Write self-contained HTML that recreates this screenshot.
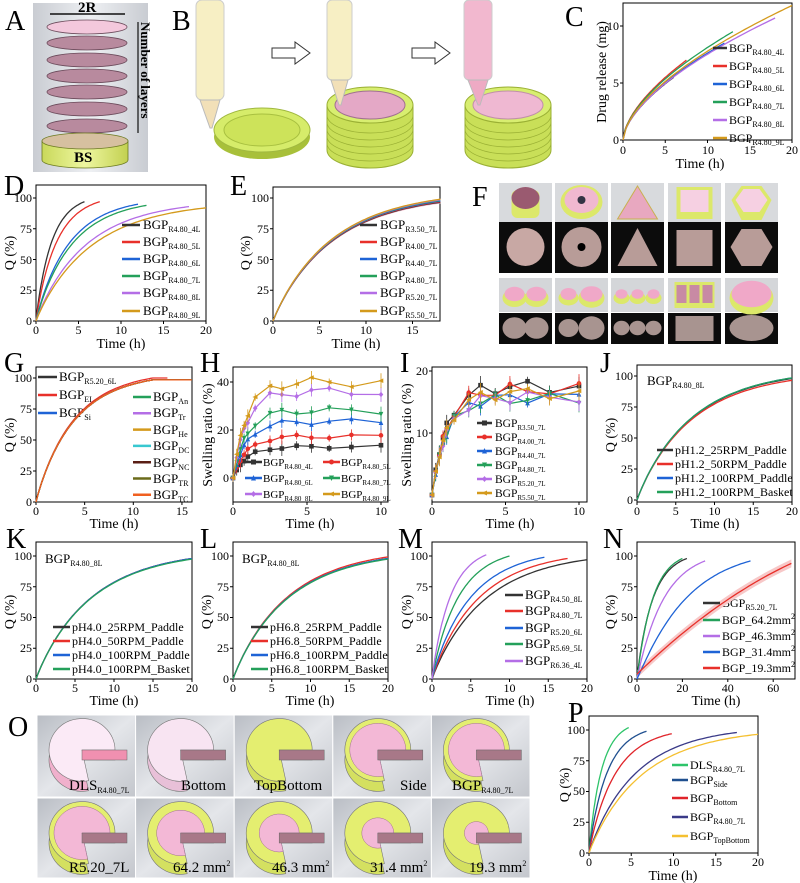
<!DOCTYPE html>
<html><head><meta charset="utf-8"><style>
html,body{margin:0;padding:0;background:#fff}
svg{display:block;font-family:"Liberation Serif",serif}
.t{font-size:12px}
.l{font-size:13px}
.s{font-size:8px}
.pl{font-size:28px}
.ax{font-size:14px}
</style></head><body>
<svg width="800" height="883" viewBox="0 0 800 883" xmlns="http://www.w3.org/2000/svg">
<defs>
<linearGradient id="gA" x1="0" x2="1"><stop offset="0" stop-color="#c9ccd2"/><stop offset="0.5" stop-color="#eef0f3"/><stop offset="1" stop-color="#c9ccd2"/></linearGradient>
<linearGradient id="gT" x1="0" y1="0" x2="1" y2="1"><stop offset="0" stop-color="#b9bdc4"/><stop offset="0.5" stop-color="#e4e6ea"/><stop offset="1" stop-color="#c3c6cc"/></linearGradient>
<linearGradient id="gY" x1="0" x2="1"><stop offset="0" stop-color="#c9d85a"/><stop offset="0.5" stop-color="#eef7a0"/><stop offset="1" stop-color="#c2d050"/></linearGradient>
</defs>

<!-- Panel A -->
<rect x="33" y="3" width="115" height="169" fill="url(#gA)"/>
<line x1="50" y1="14" x2="125" y2="14" stroke="#111" stroke-width="1.5"/>
<text x="78" y="12" font-size="15" font-weight="bold">2R</text>
<g stroke="#6a4a5a" stroke-width="0.8">
<ellipse cx="87" cy="27" rx="40" ry="7" fill="#f3c8dc"/>
<ellipse cx="87" cy="43" rx="40" ry="7" fill="#b88a9e"/>
<ellipse cx="87" cy="60" rx="40" ry="7" fill="#b88a9e"/>
<ellipse cx="87" cy="76" rx="40" ry="7" fill="#b88a9e"/>
<ellipse cx="87" cy="92" rx="40" ry="7" fill="#b88a9e"/>
<ellipse cx="87" cy="109" rx="40" ry="7" fill="#b88a9e"/>
<ellipse cx="87" cy="126" rx="40" ry="7" fill="#b88a9e"/>
</g>
<path d="M42,141 L42,160 A43,8 0 0 0 128,160 L128,141 Z" fill="url(#gY)" stroke="#6b7a20" stroke-width="0.8"/>
<ellipse cx="85" cy="141" rx="43" ry="8" fill="#d6c0a0" stroke="#6b7a20" stroke-width="0.8"/>
<text x="74" y="162" font-size="15" font-weight="bold">BS</text>
<line x1="138" y1="22" x2="138" y2="133" stroke="#111" stroke-width="1.2"/>
<text transform="translate(141,22) rotate(90)" font-size="13" font-weight="bold">Number of layers</text>
<text x="5" y="30" class="pl">A</text>

<!-- Panel B -->
<text x="172" y="30" class="pl">B</text>
<g>
<ellipse cx="262" cy="137" rx="48" ry="22" fill="#a8c03a"/>
<ellipse cx="262" cy="130" rx="48" ry="22" fill="#d6ec6a" stroke="#a0b840"/>
<ellipse cx="262" cy="130" rx="38" ry="16" fill="#cde35a" stroke="#a8c040"/>
<rect x="196" y="0" width="28" height="100" rx="6" fill="#f7efc4" stroke="#ccc"/>
<path d="M200,100 L220,100 L212,128 L210,128 Z" fill="#f2e0b8" stroke="#bbb"/>
<path d="M327,105 L327,150 A43,18 0 0 0 413,150 L413,105 Z" fill="#c9df58" stroke="#9ab034"/>
<g stroke="#9ab034" stroke-width="0.7" fill="none"><path d="M327,115 A43,18 0 0 0 413,115 M327,122 A43,18 0 0 0 413,122 M327,129 A43,18 0 0 0 413,129 M327,136 A43,18 0 0 0 413,136 M327,143 A43,18 0 0 0 413,143"/></g>
<ellipse cx="370" cy="105" rx="43" ry="18" fill="#d8ee70" stroke="#9ab034"/>
<ellipse cx="370" cy="105" rx="35" ry="14" fill="#e4a8c6" stroke="#a07090"/>
<rect x="327" y="0" width="25" height="80" rx="5" fill="#f7efc4" stroke="#ccc"/>
<path d="M331,80 L348,80 L341,105 L339,105 Z" fill="#f2e0b8" stroke="#bbb"/>
<path d="M465,105 L465,150 A43,18 0 0 0 551,150 L551,105 Z" fill="#c9df58" stroke="#9ab034"/>
<g stroke="#9ab034" stroke-width="0.7" fill="none"><path d="M465,115 A43,18 0 0 0 551,115 M465,122 A43,18 0 0 0 551,122 M465,129 A43,18 0 0 0 551,129 M465,136 A43,18 0 0 0 551,136 M465,143 A43,18 0 0 0 551,143"/></g>
<ellipse cx="508" cy="105" rx="43" ry="18" fill="#d8ee70" stroke="#9ab034"/>
<ellipse cx="508" cy="105" rx="35" ry="14" fill="#efb8d2" stroke="#c090a8"/>
<rect x="464" y="0" width="28" height="80" rx="5" fill="#f2b8cf" stroke="#ccc"/>
<path d="M468,80 L488,80 L480,105 L478,105 Z" fill="#eeaac4" stroke="#bbb"/>
<path d="M272,48 L295,48 L295,42 L310,53 L295,64 L295,58 L272,58 Z" fill="#fff" stroke="#333"/>
<path d="M412,48 L435,48 L435,42 L450,53 L435,64 L435,58 L412,58 Z" fill="#fff" stroke="#333"/>
</g>

<!-- Panel C -->
<text x="565" y="26" class="pl">C</text>
<rect x="623" y="3" width="169" height="137" fill="none" stroke="#000"/>
<g class="t" text-anchor="end"><text x="619" y="144">0</text><text x="619" y="87">5</text><text x="619" y="30">10</text></g>
<g class="t" text-anchor="middle"><text x="623" y="154">0</text><text x="665" y="154">5</text><text x="708" y="154">10</text><text x="750" y="154">15</text><text x="792" y="154">20</text></g>
<text x="700" y="168" class="ax" text-anchor="middle">Time (h)</text>
<text transform="translate(606,72) rotate(-90)" class="ax" text-anchor="middle">Drug release (mg)</text>
<g style="font-size:12px">
<text x="729" y="52">BGP<tspan class="s" dy="3">R4.80_4L</tspan></text>
<text x="729" y="70">BGP<tspan class="s" dy="3">R4.80_5L</tspan></text>
<text x="729" y="88">BGP<tspan class="s" dy="3">R4.80_6L</tspan></text>
<text x="729" y="106">BGP<tspan class="s" dy="3">R4.80_7L</tspan></text>
<text x="729" y="124">BGP<tspan class="s" dy="3">R4.80_8L</tspan></text>
<text x="729" y="142">BGP<tspan class="s" dy="3">R4.80_9L</tspan></text>
</g>

<!-- Panel D -->
<text x="4" y="195" class="pl">D</text>
<rect x="36" y="185" width="170" height="136" fill="none" stroke="#000"/>
<g class="t" text-anchor="end"><text x="32" y="325">0</text><text x="32" y="294">25</text><text x="32" y="264">50</text><text x="32" y="233">75</text><text x="32" y="202">100</text></g>
<g class="t" text-anchor="middle"><text x="36" y="334">0</text><text x="78.5" y="334">5</text><text x="121" y="334">10</text><text x="163.5" y="334">15</text><text x="206" y="334">20</text></g>
<text x="121" y="348" class="ax" text-anchor="middle">Time (h)</text>
<text transform="translate(14,253) rotate(-90)" class="ax" text-anchor="middle">Q (%)</text>
<g class="l">
<text x="143" y="229">BGP<tspan class="s" dy="3">R4.80_4L</tspan></text>
<text x="143" y="246">BGP<tspan class="s" dy="3">R4.80_5L</tspan></text>
<text x="143" y="263">BGP<tspan class="s" dy="3">R4.80_6L</tspan></text>
<text x="143" y="280">BGP<tspan class="s" dy="3">R4.80_7L</tspan></text>
<text x="143" y="297">BGP<tspan class="s" dy="3">R4.80_8L</tspan></text>
<text x="143" y="315">BGP<tspan class="s" dy="3">R4.80_9L</tspan></text>
</g>

<!-- Panel E -->
<text x="230" y="195" class="pl">E</text>
<rect x="273" y="187" width="167" height="134" fill="none" stroke="#000"/>
<g class="t" text-anchor="end"><text x="269" y="325">0</text><text x="269" y="294">25</text><text x="269" y="264">50</text><text x="269" y="233">75</text><text x="269" y="202">100</text></g>
<g class="t" text-anchor="middle"><text x="273" y="334">0</text><text x="319.5" y="334">5</text><text x="366" y="334">10</text><text x="412.5" y="334">15</text></g>
<text x="356" y="348" class="ax" text-anchor="middle">Time (h)</text>
<text transform="translate(250,253) rotate(-90)" class="ax" text-anchor="middle">Q (%)</text>
<g class="l">
<text x="380" y="229">BGP<tspan class="s" dy="3">R3.50_7L</tspan></text>
<text x="380" y="246">BGP<tspan class="s" dy="3">R4.00_7L</tspan></text>
<text x="380" y="263">BGP<tspan class="s" dy="3">R4.40_7L</tspan></text>
<text x="380" y="280">BGP<tspan class="s" dy="3">R4.80_7L</tspan></text>
<text x="380" y="297">BGP<tspan class="s" dy="3">R5.20_7L</tspan></text>
<text x="380" y="315">BGP<tspan class="s" dy="3">R5.50_7L</tspan></text>
</g>

<!-- Panel F -->
<text x="472" y="206" class="pl">F</text>
<g id="F"></g>

<!-- Panel G -->
<text x="4" y="372" class="pl">G</text>
<rect x="36" y="367" width="156" height="135" fill="none" stroke="#000"/>
<g class="t" text-anchor="end"><text x="32" y="506">0</text><text x="32" y="475">25</text><text x="32" y="444">50</text><text x="32" y="413">75</text><text x="32" y="382">100</text></g>
<g class="t" text-anchor="middle"><text x="36" y="515">0</text><text x="84.7" y="515">5</text><text x="133" y="515">10</text><text x="182" y="515">15</text></g>
<text x="114" y="528" class="ax" text-anchor="middle">Time (h)</text>
<text transform="translate(14,435) rotate(-90)" class="ax" text-anchor="middle">Q (%)</text>
<g class="l">
<text x="59" y="381">BGP<tspan class="s" dy="3">R5.20_6L</tspan></text>
<text x="59" y="399">BGP<tspan class="s" dy="3">EI</tspan></text>
<text x="59" y="417">BGP<tspan class="s" dy="3">Si</tspan></text>
<text x="153" y="401">BGP<tspan class="s" dy="3">An</tspan></text>
<text x="153" y="417">BGP<tspan class="s" dy="3">Tr</tspan></text>
<text x="153" y="434">BGP<tspan class="s" dy="3">He</tspan></text>
<text x="153" y="450">BGP<tspan class="s" dy="3">DC</tspan></text>
<text x="153" y="467">BGP<tspan class="s" dy="3">NC</tspan></text>
<text x="153" y="483">BGP<tspan class="s" dy="3">TR</tspan></text>
<text x="153" y="499">BGP<tspan class="s" dy="3">TC</tspan></text>
</g>

<!-- Panel H -->
<text x="200" y="372" class="pl">H</text>
<rect x="233" y="367" width="155" height="135" fill="none" stroke="#000"/>
<g class="t" text-anchor="end"><text x="229" y="482">0</text><text x="229" y="434">20</text><text x="229" y="386">40</text></g>
<g class="t" text-anchor="middle"><text x="233" y="515">0</text><text x="307" y="515">5</text><text x="381" y="515">10</text></g>
<text x="310" y="528" class="ax" text-anchor="middle">Time (h)</text>
<text transform="translate(212,435) rotate(-90)" class="ax" text-anchor="middle">Swelling ratio (%)</text>
<g style="font-size:11px">
<text x="263" y="466">BGP<tspan class="s" dy="3" style="font-size:7px">R4.80_4L</tspan></text>
<text x="341" y="466">BGP<tspan class="s" dy="3" style="font-size:7px">R4.80_5L</tspan></text>
<text x="263" y="482">BGP<tspan class="s" dy="3" style="font-size:7px">R4.80_6L</tspan></text>
<text x="341" y="482">BGP<tspan class="s" dy="3" style="font-size:7px">R4.80_7L</tspan></text>
<text x="263" y="498">BGP<tspan class="s" dy="3" style="font-size:7px">R4.80_8L</tspan></text>
<text x="341" y="498">BGP<tspan class="s" dy="3" style="font-size:7px">R4.80_9L</tspan></text>
</g>

<!-- Panel I -->
<text x="400" y="372" class="pl">I</text>
<rect x="432" y="367" width="155" height="135" fill="none" stroke="#000"/>
<g class="t" text-anchor="end"><text x="428" y="437">10</text><text x="428" y="375">20</text></g>
<g class="t" text-anchor="middle"><text x="432" y="515">0</text><text x="505.5" y="515">5</text><text x="579" y="515">10</text></g>
<text x="510" y="528" class="ax" text-anchor="middle">Time (h)</text>
<text transform="translate(411,435) rotate(-90)" class="ax" text-anchor="middle">Swelling ratio (%)</text>
<g style="font-size:11.5px">
<text x="495" y="427">BGP<tspan class="s" dy="3" style="font-size:7px">R3.50_7L</tspan></text>
<text x="495" y="441">BGP<tspan class="s" dy="3" style="font-size:7px">R4.00_7L</tspan></text>
<text x="495" y="455">BGP<tspan class="s" dy="3" style="font-size:7px">R4.40_7L</tspan></text>
<text x="495" y="469">BGP<tspan class="s" dy="3" style="font-size:7px">R4.80_7L</tspan></text>
<text x="495" y="483">BGP<tspan class="s" dy="3" style="font-size:7px">R5.20_7L</tspan></text>
<text x="495" y="497">BGP<tspan class="s" dy="3" style="font-size:7px">R5.50_7L</tspan></text>
</g>

<!-- Panel J -->
<text x="600" y="372" class="pl">J</text>
<rect x="637" y="365" width="155" height="137" fill="none" stroke="#000"/>
<g class="t" text-anchor="end"><text x="633" y="504">0</text><text x="633" y="473">25</text><text x="633" y="442">50</text><text x="633" y="411">75</text><text x="633" y="380">100</text></g>
<g class="t" text-anchor="middle"><text x="637" y="515">0</text><text x="675.75" y="515">5</text><text x="714.5" y="515">10</text><text x="753.25" y="515">15</text><text x="792" y="515">20</text></g>
<text x="715" y="528" class="ax" text-anchor="middle">Time (h)</text>
<text transform="translate(615,435) rotate(-90)" class="ax" text-anchor="middle">Q (%)</text>
<text x="647" y="385" class="l">BGP<tspan class="s" dy="3">R4.80_8L</tspan></text>
<g style="font-size:12px">
<text x="675" y="454">pH1.2_25RPM_Paddle</text>
<text x="675" y="468">pH1.2_50RPM_Paddle</text>
<text x="675" y="482">pH1.2_100RPM_Paddle</text>
<text x="675" y="496">pH1.2_100RPM_Basket</text>
</g>

<!-- Panel K -->
<text x="6" y="548" class="pl">K</text>
<rect x="36" y="542" width="156" height="137" fill="none" stroke="#000"/>
<g class="t" text-anchor="end"><text x="32" y="683">0</text><text x="32" y="652">25</text><text x="32" y="621">50</text><text x="32" y="591">75</text><text x="32" y="560">100</text></g>
<g class="t" text-anchor="middle"><text x="36" y="692">0</text><text x="75" y="692">5</text><text x="114" y="692">10</text><text x="153" y="692">15</text><text x="192" y="692">20</text></g>
<text x="114" y="705" class="ax" text-anchor="middle">Time (h)</text>
<text transform="translate(14,612) rotate(-90)" class="ax" text-anchor="middle">Q (%)</text>
<text x="45" y="563" class="l">BGP<tspan class="s" dy="3">R4.80_8L</tspan></text>
<g style="font-size:12px">
<text x="72" y="631">pH4.0_25RPM_Paddle</text>
<text x="72" y="645">pH4.0_50RPM_Paddle</text>
<text x="72" y="659">pH4.0_100RPM_Paddle</text>
<text x="72" y="673">pH4.0_100RPM_Basket</text>
</g>

<!-- Panel L -->
<text x="200" y="548" class="pl">L</text>
<rect x="233" y="542" width="155" height="137" fill="none" stroke="#000"/>
<g class="t" text-anchor="end"><text x="229" y="683">0</text><text x="229" y="652">25</text><text x="229" y="621">50</text><text x="229" y="591">75</text><text x="229" y="560">100</text></g>
<g class="t" text-anchor="middle"><text x="233" y="692">0</text><text x="271.75" y="692">5</text><text x="310.5" y="692">10</text><text x="349.25" y="692">15</text><text x="388" y="692">20</text></g>
<text x="310" y="705" class="ax" text-anchor="middle">Time (h)</text>
<text transform="translate(211,612) rotate(-90)" class="ax" text-anchor="middle">Q (%)</text>
<text x="242" y="563" class="l">BGP<tspan class="s" dy="3">R4.80_8L</tspan></text>
<g style="font-size:12px">
<text x="270" y="631">pH6.8_25RPM_Paddle</text>
<text x="270" y="645">pH6.8_50RPM_Paddle</text>
<text x="270" y="659">pH6.8_100RPM_Paddle</text>
<text x="270" y="673">pH6.8_100RPM_Basket</text>
</g>

<!-- Panel M -->
<text x="398" y="548" class="pl">M</text>
<rect x="432" y="542" width="155" height="137" fill="none" stroke="#000"/>
<g class="t" text-anchor="end"><text x="428" y="683">0</text><text x="428" y="652">25</text><text x="428" y="621">50</text><text x="428" y="591">75</text><text x="428" y="560">100</text></g>
<g class="t" text-anchor="middle"><text x="432" y="692">0</text><text x="470.75" y="692">5</text><text x="509.5" y="692">10</text><text x="548.25" y="692">15</text><text x="587" y="692">20</text></g>
<text x="510" y="705" class="ax" text-anchor="middle">Time (h)</text>
<text transform="translate(411,612) rotate(-90)" class="ax" text-anchor="middle">Q (%)</text>
<g class="l">
<text x="525" y="599">BGP<tspan class="s" dy="3">R4.50_8L</tspan></text>
<text x="525" y="615">BGP<tspan class="s" dy="3">R4.80_7L</tspan></text>
<text x="525" y="632">BGP<tspan class="s" dy="3">R5.20_6L</tspan></text>
<text x="525" y="648">BGP<tspan class="s" dy="3">R5.69_5L</tspan></text>
<text x="525" y="665">BGP<tspan class="s" dy="3">R6.36_4L</tspan></text>
</g>

<!-- Panel N -->
<text x="603" y="548" class="pl">N</text>
<rect x="637" y="542" width="158" height="137" fill="none" stroke="#000"/>
<g class="t" text-anchor="end"><text x="633" y="683">0</text><text x="633" y="652">25</text><text x="633" y="621">50</text><text x="633" y="591">75</text><text x="633" y="560">100</text></g>
<g class="t" text-anchor="middle"><text x="637" y="692">0</text><text x="682.4" y="692">20</text><text x="727.8" y="692">40</text><text x="773.2" y="692">60</text></g>
<text x="716" y="705" class="ax" text-anchor="middle">Time (h)</text>
<text transform="translate(615,612) rotate(-90)" class="ax" text-anchor="middle">Q (%)</text>
<g style="font-size:12px">
<text x="722" y="607">BGP<tspan class="s" dy="3">R5.20_7L</tspan></text>
<text x="722" y="624">BGP_64.2mm<tspan class="s" dy="-5">2</tspan></text>
<text x="722" y="640">BGP_46.3mm<tspan class="s" dy="-5">2</tspan></text>
<text x="722" y="656">BGP_31.4mm<tspan class="s" dy="-5">2</tspan></text>
<text x="722" y="672">BGP_19.3mm<tspan class="s" dy="-5">2</tspan></text>
</g>

<!-- Panel O -->
<text x="8" y="736" class="pl">O</text>
<g id="O"></g>
<g font-size="15">
<text x="69" y="790">DLS<tspan class="s" dy="3">R4.80_7L</tspan></text>
<text x="181" y="790">Bottom</text>
<text x="254" y="790">TopBottom</text>
<text x="400" y="790">Side</text>
<text x="452" y="790">BGP<tspan class="s" dy="3">R4.80_7L</tspan></text>
<text x="69" y="872">R5.20_7L</text>
<text x="173" y="872">64.2 mm<tspan class="s" dy="-6">2</tspan></text>
<text x="272" y="872">46.3 mm<tspan class="s" dy="-6">2</tspan></text>
<text x="370" y="872">31.4 mm<tspan class="s" dy="-6">2</tspan></text>
<text x="469" y="872">19.3 mm<tspan class="s" dy="-6">2</tspan></text>
</g>

<!-- Panel P -->
<text x="568" y="722" class="pl">P</text>
<rect x="589" y="716" width="169" height="137" fill="none" stroke="#000"/>
<g class="t" text-anchor="end"><text x="585" y="857">0</text><text x="585" y="826">25</text><text x="585" y="795">50</text><text x="585" y="765">75</text><text x="585" y="734">100</text></g>
<g class="t" text-anchor="middle"><text x="589" y="866">0</text><text x="631" y="866">5</text><text x="673.5" y="866">10</text><text x="716" y="866">15</text><text x="758" y="866">20</text></g>
<text x="673" y="880" class="ax" text-anchor="middle">Time (h)</text>
<text transform="translate(569,785) rotate(-90)" class="ax" text-anchor="middle">Q (%)</text>
<g style="font-size:12px">
<text x="690" y="769">DLS<tspan class="s" dy="3">R4.80_7L</tspan></text>
<text x="690" y="784">BGP<tspan class="s" dy="3">Side</tspan></text>
<text x="690" y="802">BGP<tspan class="s" dy="3">Bottom</tspan></text>
<text x="690" y="821">BGP<tspan class="s" dy="3">R4.80_7L</tspan></text>
<text x="690" y="840">BGP<tspan class="s" dy="3">TopBottom</tspan></text>
</g>

<g id="dyn"></g>
</svg>
<script>
const S='http://www.w3.org/2000/svg';
const g=document.getElementById('dyn');
function el(tag,a,par){const e=document.createElementNS(S,tag);for(const k in a)e.setAttribute(k,a[k]);(par||g).appendChild(e);return e;}
function P(d,c,w){el('path',{d:d,stroke:c,fill:'none','stroke-width':w||1.3});}
function lg(x1,x2,y,c){el('line',{x1:x1,x2:x2,y1:y,y2:y,stroke:c,'stroke-width':2.5});}
function weib(ch,tend,q,c,b,fr,flat){b=b||0.95;fr=fr||0.35;const tau=tend*fr;const norm=1-Math.exp(-Math.pow(1/fr,b));let d='';for(let i=0;i<=60;i++){const t=tend*i/60;const v=q*(1-Math.exp(-Math.pow(t/tau,b)))/norm;d+=(i?'L':'M')+(ch.ax+t*ch.sx).toFixed(1)+','+(ch.ay-v*ch.sy).toFixed(1);}if(flat)d+='L'+(ch.ax+flat*ch.sx).toFixed(1)+','+(ch.ay-q*ch.sy).toFixed(1);P(d,c);}
function ticksX(ch,vals,yb){vals.forEach(v=>{const x=ch.ax+v*ch.sx;el('line',{x1:x,x2:x,y1:yb,y2:yb+3,stroke:'#000'});});}
function ticksY(ch,vals,xl){vals.forEach(v=>{const y=ch.ay-v*ch.sy;el('line',{x1:xl-3,x2:xl,y1:y,y2:y,stroke:'#000'});});}
const K='#333',R='#e8302a',B='#1e63d6',G='#24a05a',U='#b46ee6',O='#d49a1c';
// C
const C={ax:623,sx:8.45,ay:140,sy:11.4};
ticksX(C,[0,5,10,15,20],140);ticksY(C,[0,5,10],623);
[[6,5.5,K],[7.5,7,R],[12,8.5,B],[13,9.5,G],[18,10.7,U],[20,11.8,O]].forEach(([te,e,c])=>{const sc=e/Math.pow(te,0.6);let d='';for(let i=0;i<=50;i++){const t=te*i/50;d+=(i?'L':'M')+(C.ax+t*C.sx).toFixed(1)+','+(C.ay-sc*Math.pow(t,0.6)*C.sy).toFixed(1);}P(d,c);});
[K,R,B,G,U,O].forEach((c,i)=>lg(713,727,48+i*18,c));
// D
const D={ax:36,sx:8.5,ay:321,sy:1.23};
ticksX(D,[0,5,10,15,20],321);ticksY(D,[0,25,50,75,100],36);
[[5.7,97,K],[7.5,97,R],[12,95,B],[13,94,G],[18,93,U],[20,92,O]].forEach(([t,q,c])=>weib(D,t,q,c,0.95,0.33));
[K,R,B,G,U,O].forEach((c,i)=>lg(122,140,[225,242,259,276,293,311][i],c));
// E
const E={ax:273,sx:9.3,ay:321,sy:1.23};
ticksX(E,[0,5,10,15],321);ticksY(E,[0,25,50,75,100],273);
['#f4b8c8',K,R,B,G,U,O].forEach((c,i)=>weib(E,18,96+i*0.5,c,0.95,0.36));
[K,R,B,G,U,O].forEach((c,i)=>lg(360,377,[225,242,259,276,293,311][i],c));
// G
const GG={ax:36,sx:9.73,ay:502,sy:1.24};
ticksX(GG,[0,5,10,15],502);ticksY(GG,[0,25,50,75,100],36);
const gc=[K,R,B,G,U,O,'#38c8d0','#5a1e14','#6b6b1a','#f06020'];
gc.forEach((c,i)=>weib(GG,12,i==1?100:98.5,c,0.95,0.33,i==1?13.5:16));
[K,R,B].forEach((c,i)=>lg(38,57,[377,395,413][i],c));
gc.slice(3).forEach((c,i)=>lg(133,151,397+i*16.3,c));
// swelling
function swell(ch,ts,vals,c,m){let d='';ts.forEach((t,i)=>{d+=(i?'L':'M')+(ch.ax+t*ch.sx).toFixed(1)+','+(ch.ay-vals[i]*ch.sy).toFixed(1);});P(d,c,1.2);ts.forEach((t,i)=>{const x=ch.ax+t*ch.sx,y=ch.ay-vals[i]*ch.sy;const e=(ch.e||2)*(0.6+0.8*((i*7)%5)/5);el('line',{x1:x,x2:x,y1:y-e*ch.sy,y2:y+e*ch.sy,stroke:c,'stroke-width':0.8});mk(x,y,c,m,2.3);});}
function mk(x,y,c,m,r){if(m==0)el('rect',{x:x-r,y:y-r,width:2*r,height:2*r,fill:c});else if(m==1)el('circle',{cx:x,cy:y,r:r,fill:c});else if(m==2)el('path',{d:`M${x},${y-r-0.5}L${x+r},${y+r}L${x-r},${y+r}Z`,fill:c});else if(m==3)el('path',{d:`M${x},${y+r+0.5}L${x+r},${y-r}L${x-r},${y-r}Z`,fill:c});else if(m==4)el('path',{d:`M${x},${y-r-0.5}L${x+r},${y}L${x},${y+r+0.5}L${x-r},${y}Z`,fill:c});else el('path',{d:`M${x-r-0.5},${y}L${x+r},${y-r}L${x+r},${y+r}Z`,fill:c});}
const ts=[0,0.25,0.5,0.75,1,1.5,2.5,3.3,4.3,5.3,6.5,8,10];
const H={ax:233,sx:14.8,ay:478,sy:2.4,e:2.5};
ticksX(H,[0,5,10],502);ticksY(H,[0,20,40],233);
const hp=[[13,K],[17.3,R],[23.5,B],[28,G],[36,U],[40,O]];
hp.forEach(([p,c],j)=>{const v=ts.map((t,i)=>p*(1-Math.exp(-t/0.9))*(1+0.05*Math.sin(i*1.7+j)));swell(H,ts,v,c,j);});
[[245,262,462],[323,340,462],[245,262,478],[323,340,478],[245,262,494],[323,340,494]].forEach((a,i)=>{lg(a[0],a[1],a[2],hp[i][1]);mk((a[0]+a[1])/2,a[2],hp[i][1],i,2.5);});
const I={ax:432,sx:14.7,ay:495,sy:6.2,e:1.2};
ticksX(I,[0,5,10],502);ticksY(I,[10,20],432);
const ip=[[17.5,K],[17,R],[15.8,B],[15.5,G],[15.8,U],[16.5,O]];
ip.forEach(([p,c],j)=>{const v=ts.map((t,i)=>p*(1-Math.exp(-t/1.0))*(1+0.06*Math.sin(i*2.1+j*1.3)));swell(I,ts,v,c,j);});
ip.forEach(([p,c],i)=>{lg(477,492,423+i*14,c);mk(484.5,423+i*14,c,i,2.5);});
// J K L
function rel(ch,cols,ends,xl,ys,yb){ticksX(ch,[0,5,10,15,20],yb);ticksY(ch,[0,25,50,75,100],ch.ax);cols.forEach((c,i)=>weib(ch,20,ends[i],c,0.95,0.36));cols.forEach((c,i)=>lg(xl[0],xl[1],ys[i],c));}
rel({ax:637,sx:7.75,ay:500,sy:1.24},[K,R,B,G],[98,96.5,98.5,98.5],[657,673],[450,464,478,492],502);
rel({ax:36,sx:7.8,ay:679,sy:1.23},[K,R,B,G],[98,98,98,97.5],[53,70],[627,641,655,669],679);
rel({ax:233,sx:7.75,ay:679,sy:1.23},[K,R,B,G],[98,99.3,98,97.5],[251,268],[627,641,655,669],679);
// M
const M={ax:432,sx:7.75,ay:679,sy:1.23};
ticksX(M,[0,5,10,15,20],679);ticksY(M,[0,25,50,75,100],432);
[[20,97,K],[17.5,98,R],[14.5,99,B],[10,100,G],[7,101,U]].forEach(([t,q,c])=>weib(M,t,q,c,0.95,0.35));
[K,R,B,G,U].forEach((c,i)=>lg(505,523,[595,611,628,644,661][i],c));
// N
const N={ax:637,sx:2.27,ay:679,sy:1.23};
ticksX(N,[0,20,40,60],679);ticksY(N,[0,25,50,75,100],637);
const fN=t=>4+90*t/68*(1.35-0.35*t/68);
el('path',{d:(()=>{let d='';for(let i=0;i<=40;i++){const t=68*i/40;d+=(i?'L':'M')+(N.ax+t*N.sx)+','+(N.ay-fN(t)*N.sy-4);}for(let i=40;i>=0;i--){const t=68*i/40;d+='L'+(N.ax+t*N.sx)+','+(N.ay-fN(t)*N.sy+4);}return d+'Z';})(),fill:'#f7c8c8',stroke:'none'});
[[22,98,K,0.95,0.32],[20,98,G,1.0,0.35],[30,96,U,1.0,0.4],[50,96,B,1.05,0.45]].forEach(([t,q,c,b,fr])=>weib(N,t,q,c,b,fr));
(()=>{let d='';for(let i=0;i<=40;i++){const t=68*i/40;d+=(i?'L':'M')+(N.ax+t*N.sx).toFixed(1)+','+(N.ay-fN(t)*N.sy).toFixed(1);}P(d,R);})();
[K,G,U,B,R].forEach((c,i)=>lg(703,720,[603,620,636,652,668][i],c));
// P
const PP={ax:589,sx:8.45,ay:853,sy:1.23};
ticksX(PP,[0,5,10,15,20],853);ticksY(PP,[0,25,50,75,100],589);
[[4.7,102,'#2ec46a'],[6.8,99,'#1f4f8f'],[9.8,97,'#e0242a'],[17.5,98,'#3a3a88'],[20,96.5,'#f5c030']].forEach(([t,q,c])=>weib(PP,t,q,c,0.95,0.32));
['#2ec46a','#1f4f8f','#e0242a','#3a3a88','#f5c030'].forEach((c,i)=>lg(672,688,[765,780,798,817,836][i],c));
// F photos
const F=document.getElementById('F');
const cx=[499,555,611,668,725],w=53;
cx.forEach((x,i)=>{
 el('rect',{x:x,y:183,width:w,height:39,fill:'#d8dadd'},F);
 el('rect',{x:x,y:222,width:w,height:51,fill:'#0c0c0c'},F);
 el('rect',{x:x,y:278,width:w,height:34,fill:'#d4d6d9'},F);
 el('rect',{x:x,y:313,width:w,height:31,fill:'#0c0c0c'},F);
 const m=x+w/2;
 if(i==0){el('rect',{x:m-14,y:190,width:28,height:28,rx:6,fill:'#dce86a'},F);el('ellipse',{cx:m,cy:198,rx:14,ry:11,fill:'#9a5a70'},F);el('circle',{cx:m,cy:247,r:19,fill:'#c8a8a4'},F);}
 if(i==1){el('ellipse',{cx:m,cy:202,rx:21,ry:17,fill:'#dce86a'},F);el('ellipse',{cx:m,cy:200,rx:17,ry:13,fill:'#f0b8d0'},F);el('circle',{cx:m,cy:200,r:4,fill:'#334'},F);el('circle',{cx:m,cy:247,r:20,fill:'#b89c98'},F);el('circle',{cx:m,cy:247,r:4,fill:'#000'},F);}
 if(i==2){el('path',{d:`M${m},186L${m+20},219L${m-20},219Z`,fill:'#e8a8c0',stroke:'#c8b050'},F);el('path',{d:`M${m},228L${m+20},266L${m-20},266Z`,fill:'#b89c98'},F);}
 if(i==3){el('rect',{x:m-18,y:187,width:36,height:32,fill:'#dce86a'},F);el('rect',{x:m-14,y:190,width:28,height:22,fill:'#f6d0e2'},F);el('rect',{x:m-18,y:230,width:36,height:36,fill:'#b89c98'},F);}
 if(i==4){el('path',{d:`M${m-10},186L${m+10},186L${m+20},200L${m+10},220L${m-10},220L${m-20},200Z`,fill:'#dce86a'},F);el('path',{d:`M${m-8},189L${m+8},189L${m+16},200L${m+8},212L${m-8},212L${m-16},200Z`,fill:'#f6d0e2'},F);el('path',{d:`M${m-10},229L${m+10},229L${m+21},247L${m+10},266L${m-10},266L${m-21},247Z`,fill:'#b89c98'},F);}
 const sets=[[[m-11,12],[m+11,12]],[[m-13,10],[m+10,13]],[[m-16,8],[m,8],[m+16,8]],null,[[m,22]]];
 const s=sets[i];
 if(s){s.forEach(([px,r])=>{el('ellipse',{cx:px,cy:298,rx:r,ry:r*0.75,fill:'#dce86a'},F);el('ellipse',{cx:px,cy:294,rx:r-2,ry:r*0.6,fill:'#f0a8c8'},F);el('ellipse',{cx:px,cy:328,rx:r,ry:Math.min(r*0.9,13),fill:'#a89490'},F);});}
 else{el('rect',{x:m-20,y:282,width:40,height:26,fill:'#dce86a'},F);[-13,0,13].forEach(o=>el('rect',{x:m+o-5,y:285,width:10,height:18,fill:'#c88aa4'},F));el('rect',{x:m-19,y:316,width:38,height:25,fill:'#a89490'},F);}
});
// O tiles
const Og=document.getElementById('O');
for(let r=0;r<2;r++)for(let i=0;i<5;i++){
 const x=37+i*98.6,y=r?798:715,h=r?80:82;
 el('rect',{x:x,y:y,width:98.6,height:h,fill:'url(#gT)',stroke:'#fff','stroke-width':1},Og);
 const c0=x+45,cy=y+35,R0=33;
 let top,inner;
 if(r==0){top=['#fbeaf6','#f8e4f2','#e4ee70','#e4ee70','#e4ee70'][i];inner=[null,null,null,'#f3b8d6','#f3b8d6'][i];}
 else{top='#e4ee70';inner='#f3b8d6';}
 const side=r==0&&i<2?(i==0?'#f0b0cc':'#e8c0d8'):'#d4e060';
 const pie=(rr,yy)=>`M${c0},${yy}L${c0+rr},${yy}A${rr},${rr*0.95} 0 1 0 ${c0+rr*0.2},${yy+rr*0.93}Z`;
 el('path',{d:pie(R0,cy+10),fill:side,stroke:'#777','stroke-width':0.6},Og);
 el('path',{d:pie(R0,cy),fill:top,stroke:'#777','stroke-width':0.6},Og);
 if(inner){const ir=r==0?R0-5:[R0-5,R0-9,R0-13,R0-17,R0-21][i];el('path',{d:pie(ir,cy),fill:inner,stroke:'#a07090','stroke-width':0.5},Og);}
 el('rect',{x:c0,y:cy,width:R0+12,height:10,fill:r==0&&i==0?'#f090b0':'#a87888',stroke:'#666','stroke-width':0.5},Og);
}
</script>
</body></html>
